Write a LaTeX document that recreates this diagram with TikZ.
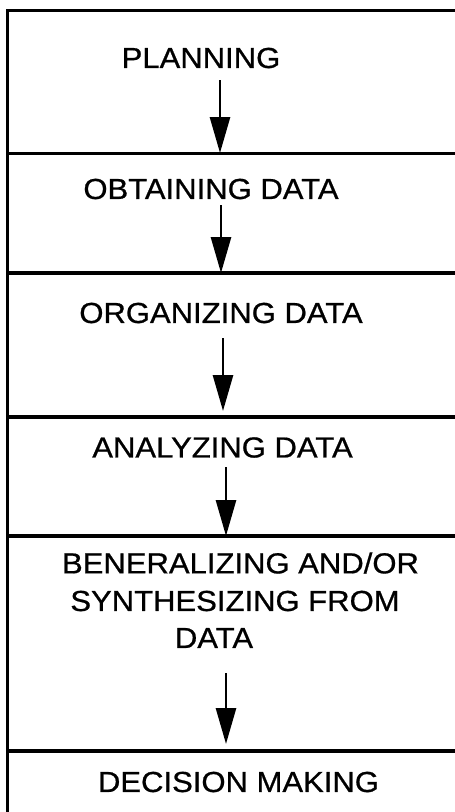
\documentclass[tikz,border=0pt]{standalone}
\usepackage{fontspec}
\setmainfont{Liberation Sans}
\newfontfamily\stagefont{Liberation Sans}[FakeBold=0.7]
\usetikzlibrary{arrows.meta}

\begin{document}
\begin{tikzpicture}[x=1pt,y=-1pt,
  frame/.style={line width=3.4pt},
  stage/.style={font=\stagefont\fontsize{29}{33}\selectfont, xscale=1.07, inner sep=0pt, anchor=center},
  flow/.style={line width=2.8pt, -{Triangle[length=36pt,width=20pt]}}]
  \useasboundingbox (0,0) rectangle (455,812);

  % outer frame (open at the right and bottom)
  \draw[frame] (455,10.5) -- (7.5,10.5) -- (7.5,812);

  % dividers between the stages
  \foreach \yy in {153.5, 273, 417, 536, 751}{
    \draw[frame] (7.5,\yy) -- (455,\yy);
  }

  % stage labels
  \node[stage] (plan) at (201,58) {PLANNING};
  \node[stage] (obt)  at (211,189) {OBTAINING DATA};
  \node[stage] (org)  at (221,313) {ORGANIZING DATA};
  \node[stage] (ana)  at (222.5,447.5) {ANALYZING DATA};
  \node[stage] (gen1) at (240.5,563) {BENERALIZING AND/OR};
  \node[stage] (gen2) at (235,601) {SYNTHESIZING FROM};
  \node[stage] (gen3) at (214,638) {DATA};
  \node[stage] (dec)  at (238.5,782) {DECISION MAKING};

  % arrow ends
  \coordinate (a1s) at (220,80);  \coordinate (a1e) at (220,153);
  \coordinate (a2s) at (221,205); \coordinate (a2e) at (221,273);
  \coordinate (a3s) at (223,338); \coordinate (a3e) at (223,411);
  \coordinate (a4s) at (226,467); \coordinate (a4e) at (226,536);
  \coordinate (a5s) at (226,673); \coordinate (a5e) at (226,744);

  \draw[flow] (a1s) -- (a1e);
  \draw[flow] (a2s) -- (a2e);
  \draw[flow] (a3s) -- (a3e);
  \draw[flow] (a4s) -- (a4e);
  \draw[flow] (a5s) -- (a5e);
\end{tikzpicture}
\end{document}
